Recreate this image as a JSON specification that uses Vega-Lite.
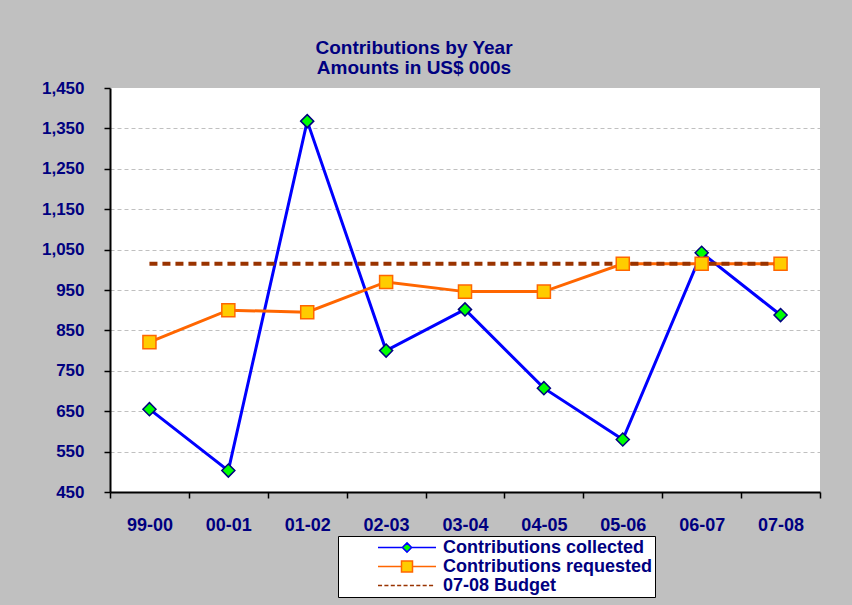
{
  "$schema": "https://vega.github.io/schema/vega-lite/v6.json",
  "width": 710,
  "height": 404,
  "autosize": {"type": "none"},
  "padding": {"left": 110, "top": 88, "right": 32, "bottom": 113},
  "background": "#C0C0C0",
  "config": {
    "view": {"fill": "white", "stroke": null},
    "font": "Liberation Sans"
  },
  "title": {
    "text": ["Contributions by Year", "Amounts in US$ 000s"],
    "font": "Liberation Sans",
    "fontSize": 19,
    "fontWeight": "bold",
    "color": "#000080",
    "anchor": "middle",
    "dx": -51,
    "offset": 1,
    "lineHeight": 20
  },
  "data": {
    "values": [
      {"year": "99-00", "series": "Contributions collected", "value": 655},
      {"year": "00-01", "series": "Contributions collected", "value": 503},
      {"year": "01-02", "series": "Contributions collected", "value": 1368},
      {"year": "02-03", "series": "Contributions collected", "value": 800},
      {"year": "03-04", "series": "Contributions collected", "value": 902},
      {"year": "04-05", "series": "Contributions collected", "value": 707},
      {"year": "05-06", "series": "Contributions collected", "value": 580},
      {"year": "06-07", "series": "Contributions collected", "value": 1042},
      {"year": "07-08", "series": "Contributions collected", "value": 888},
      {"year": "99-00", "series": "Contributions requested", "value": 821},
      {"year": "00-01", "series": "Contributions requested", "value": 900},
      {"year": "01-02", "series": "Contributions requested", "value": 895},
      {"year": "02-03", "series": "Contributions requested", "value": 970},
      {"year": "03-04", "series": "Contributions requested", "value": 946},
      {"year": "04-05", "series": "Contributions requested", "value": 946},
      {"year": "05-06", "series": "Contributions requested", "value": 1015},
      {"year": "06-07", "series": "Contributions requested", "value": 1015},
      {"year": "07-08", "series": "Contributions requested", "value": 1015},
      {"year": "99-00", "series": "07-08 Budget", "value": 1015},
      {"year": "00-01", "series": "07-08 Budget", "value": 1015},
      {"year": "01-02", "series": "07-08 Budget", "value": 1015},
      {"year": "02-03", "series": "07-08 Budget", "value": 1015},
      {"year": "03-04", "series": "07-08 Budget", "value": 1015},
      {"year": "04-05", "series": "07-08 Budget", "value": 1015},
      {"year": "05-06", "series": "07-08 Budget", "value": 1015},
      {"year": "06-07", "series": "07-08 Budget", "value": 1015},
      {"year": "07-08", "series": "07-08 Budget", "value": 1015}
    ]
  },
  "encoding": {
    "x": {
      "field": "year",
      "type": "nominal",
      "sort": null,
      "scale": {"type": "band", "paddingInner": 0, "paddingOuter": 0},
      "axis": {
        "title": null,
        "labelAngle": 0,
        "labelFont": "Liberation Sans",
        "labelFontSize": 18,
        "labelFontWeight": "bold",
        "labelColor": "#000080",
        "labelPadding": 18,
        "tickBand": "extent",
        "tickSize": 6,
        "tickColor": "black",
        "tickWidth": 1.5,
        "domainColor": "black",
        "domainWidth": 2,
        "grid": false
      }
    },
    "y": {
      "field": "value",
      "type": "quantitative",
      "scale": {"domain": [450, 1450], "nice": false, "zero": false},
      "axis": {
        "title": null,
        "values": [450, 550, 650, 750, 850, 950, 1050, 1150, 1250, 1350, 1450],
        "format": ",.0f",
        "labelFont": "Liberation Sans",
        "labelFontSize": 17,
        "labelFontWeight": "bold",
        "labelColor": "#000080",
        "labelPadding": 20,
        "tickSize": 6,
        "tickColor": "black",
        "tickWidth": 1.5,
        "domainColor": "black",
        "domainWidth": 2,
        "grid": true,
        "gridDash": [4, 3],
        "gridWidth": 1,
        "gridColor": {"condition": {"test": "datum.value >= 1450", "value": "transparent"}, "value": "#C0C0C0"}
      }
    }
  },
  "layer": [
    {
      "transform": [{"filter": "datum.series != '07-08 Budget'"}],
      "mark": {"type": "line", "strokeWidth": 3},
      "encoding": {
        "color": {
          "field": "series",
          "type": "nominal",
          "scale": {"domain": ["Contributions collected", "Contributions requested"], "range": ["#0000FF", "#FF6600"]},
          "legend": null
        }
      }
    },
    {
      "transform": [{"filter": "datum.series == '07-08 Budget'"}],
      "mark": {"type": "line", "strokeWidth": 4, "color": "#993300", "strokeDash": [8, 5]},
      "encoding": {}
    },
    {
      "transform": [{"filter": "datum.series == 'Contributions collected'"}],
      "mark": {"type": "point", "shape": "diamond", "filled": true, "fill": "#00FF00", "stroke": "#000080", "strokeWidth": 1.5, "size": 170, "opacity": 1}
    },
    {
      "transform": [{"filter": "datum.series == 'Contributions requested'"}],
      "mark": {"type": "point", "shape": "square", "filled": true, "fill": "#FFCC00", "stroke": "#FF6600", "strokeWidth": 1.5, "size": 170, "opacity": 1}
    },
    {
      "transform": [{"filter": "datum.year == '99-00'"}],
      "mark": {"type": "point", "filled": true, "opacity": 0},
      "encoding": {
        "shape": {
          "field": "series",
          "type": "nominal",
          "scale": {
            "domain": ["Contributions collected", "Contributions requested", "07-08 Budget"],
            "range": [
              "M-1,0H-0.16M0.16,0H1M0,-0.16L0.16,0L0,0.16L-0.16,0Z",
              "M-1,0H-0.19M0.19,0H1M-0.19,-0.19H0.19V0.19H-0.19Z",
              "M-1,0H-0.86M-0.78,0H-0.64M-0.56,0H-0.42M-0.34,0H-0.2M-0.12,0H0.02M0.1,0H0.24M0.32,0H0.46M0.54,0H0.68M0.76,0H0.9"
            ]
          },
          "legend": {
            "title": null,
            "orient": "none",
            "legendX": 228,
            "legendY": 448,
            "padding": 2,
            "fillColor": "white",
            "strokeColor": "black",
            "clipHeight": 19,
            "rowPadding": 0,
            "symbolSize": 3364,
            "symbolStrokeWidth": 1.5,
            "symbolOffset": 37,
            "symbolOpacity": 1,
            "labelOffset": 6,
            "labelFont": "Liberation Sans",
            "labelFontSize": 18,
            "labelFontWeight": "bold",
            "labelColor": "#000080",
            "labelLimit": 400,
            "encode": {"legend": {"update": {"strokeWidth": {"value": 2}}}, "symbols": {"update": {"opacity": {"value": 1}}}}
          }
        },
        "fill": {
          "field": "series",
          "type": "nominal",
          "scale": {
            "domain": ["Contributions collected", "Contributions requested", "07-08 Budget"],
            "range": ["#00FF00", "#FFCC00", "transparent"]
          },
          "legend": {
            "title": null,
            "orient": "none",
            "legendX": 228,
            "legendY": 448,
            "padding": 2,
            "fillColor": "white",
            "strokeColor": "black",
            "clipHeight": 19,
            "rowPadding": 0,
            "symbolSize": 3364,
            "symbolStrokeWidth": 1.5,
            "symbolOffset": 37,
            "symbolOpacity": 1,
            "labelOffset": 6,
            "labelFont": "Liberation Sans",
            "labelFontSize": 18,
            "labelFontWeight": "bold",
            "labelColor": "#000080",
            "labelLimit": 400
          }
        },
        "stroke": {
          "field": "series",
          "type": "nominal",
          "scale": {
            "domain": ["Contributions collected", "Contributions requested", "07-08 Budget"],
            "range": ["#0000FF", "#FF6600", "#993300"]
          },
          "legend": {
            "title": null,
            "orient": "none",
            "legendX": 228,
            "legendY": 448,
            "padding": 2,
            "fillColor": "white",
            "strokeColor": "black",
            "clipHeight": 19,
            "rowPadding": 0,
            "symbolSize": 3364,
            "symbolStrokeWidth": 1.5,
            "symbolOffset": 37,
            "symbolOpacity": 1,
            "labelOffset": 6,
            "labelFont": "Liberation Sans",
            "labelFontSize": 18,
            "labelFontWeight": "bold",
            "labelColor": "#000080",
            "labelLimit": 400
          }
        }
      }
    }
  ]
}
